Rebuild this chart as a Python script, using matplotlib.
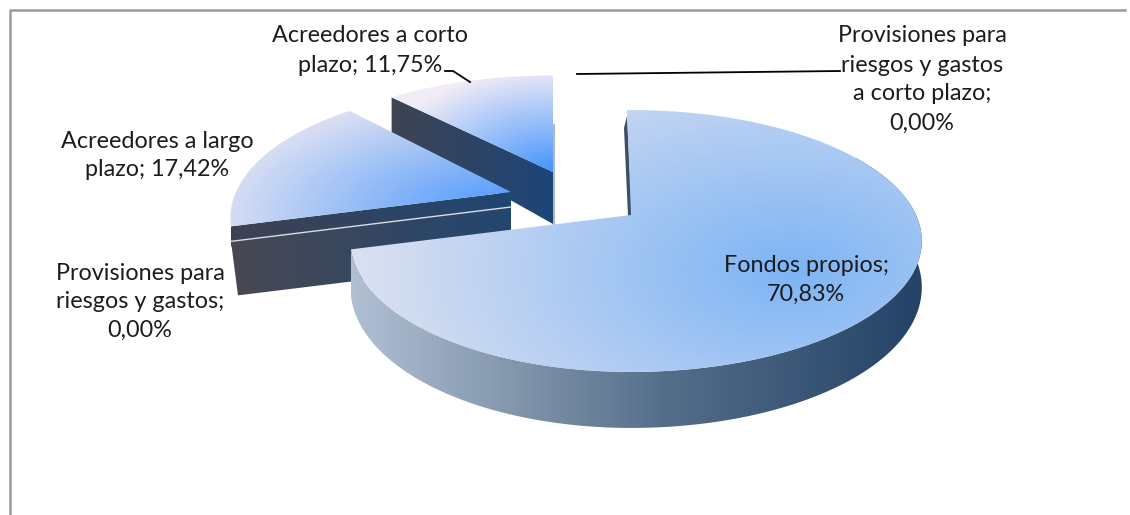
import numpy as np
import matplotlib
matplotlib.use("Agg")
import matplotlib.pyplot as plt
from matplotlib.patches import Polygon

# chart values
names = ["Fondos propios;\n", "Provisiones para\nriesgos y gastos;\n", "Acreedores a largo\nplazo; ",
         "Acreedores a corto\nplazo; ", "Provisiones para\nriesgos y gastos\na corto plazo;\n"]
values = [70.83, 0.00, 17.42, 11.75, 0.00]

plt.rcParams['font.family'] = ['Lato', 'DejaVu Sans']

# shape of the tilted pie, in pixels (left half is a bit narrower in the picture)
A_RIGHT, A_LEFT, B, P = 285.0, 275.0, 125.8, 0.1985


def project(apex, deg, yscale=1.0):
    t = np.radians(deg)
    u, v = np.sin(t), np.cos(t)
    w = 1 + P * v
    a = np.where(u < 0, A_LEFT, A_RIGHT)
    return np.column_stack([apex[0] + a * u / w, apex[1] - yscale * B * v / w])


def rim_depth(deg):
    return 44 - 12 * np.cos(np.radians(deg))


def lerp_img(t, c0, c1):
    t = np.clip(t, 0, 1)[..., None]
    return (np.array(c0) + (np.array(c1) - np.array(c0)) * t) / 255.0


def fill(ax, pts, img, extent, z):
    patch = Polygon(pts, closed=True, fc='none', ec='none', zorder=z)
    ax.add_patch(patch)
    im = ax.imshow(img, extent=extent, aspect='auto', zorder=z, interpolation='bilinear')
    im.set_clip_path(patch)


def radial(ax, pts, centre, rx, ry, c0, c1, z):
    x0, y0 = pts.min(axis=0) - 2
    x1, y1 = pts.max(axis=0) + 2
    xx, yy = np.meshgrid(np.linspace(x0, x1, 300), np.linspace(y0, y1, 300))
    t = np.hypot((xx - centre[0]) / rx, (yy - centre[1]) / ry)
    fill(ax, pts, lerp_img(t, c0, c1), (x0, x1, y1, y0), z)


def linear(ax, pts, c0, c1, z):
    x0, y0 = pts.min(axis=0) - 2
    x1, y1 = pts.max(axis=0) + 2
    xx = np.tile(np.linspace(0, 1, 300), (4, 1))
    fill(ax, pts, lerp_img(xx, c0, c1), (x0, x1, y1, y0), z)


def wall(ax, apex, end, apex_drop, rim_drop, c0, c1, z, rim_dx=0):
    pts = np.array([end, apex, [apex[0], apex[1] + apex_drop], [end[0] + rim_dx, end[1] + rim_drop]])
    linear(ax, pts, c0, c1, z)


fig = plt.figure(figsize=(11.3, 5.15), dpi=100)
ax = fig.add_axes([0, 0, 1, 1])

# slice angles come from the values, clockwise from 12 o'clock
ends = np.cumsum(values) * 3.6
big_end, thin_end, largo_end = ends[0], ends[1], ends[2]

# Acreedores a corto plazo
apex_corto = (553, 172)
arc = project(apex_corto, np.linspace(largo_end, 360, 60), 0.92)
face = np.vstack([apex_corto, arc])
wall(ax, apex_corto, arc[0], 52, 36, (62, 68, 82), (28, 70, 122), 2)
radial(ax, face, (553, 172), 175, 105, (66, 148, 252), (242, 236, 246), 3)
ax.plot([554, 554], [125, 225], color='#b5b8bb', lw=1.5, zorder=1)

# Acreedores a largo plazo
apex_largo = (511, 192)
arc = project(apex_largo, np.linspace(big_end, largo_end, 80))
face = np.vstack([apex_largo, arc])
wall(ax, apex_largo, arc[0], 20, 20, (62, 66, 80), (32, 70, 115), 4)
radial(ax, face, (520, 215), 320, 130, (66, 148, 252), (228, 228, 242), 5)

# Provisiones para riesgos y gastos, 0 % so only the wall shows
apex_thin = (511, 207)
end = project(apex_thin, thin_end)[0]
wall(ax, apex_thin, end, 55, 54, (72, 72, 82), (34, 70, 112), 6, rim_dx=7)
ax.plot([end[0], apex_thin[0]], [end[1], apex_thin[1]], color='#d9dde3', lw=1, zorder=7)

# Fondos propios
apex_big = (631, 215)
arc_deg = np.linspace(60, big_end, 160)
top = project(apex_big, arc_deg)
bottom = top + np.column_stack([np.zeros(len(top)), rim_depth(arc_deg)])
rim = np.vstack([top, bottom[::-1]])
x0, y0 = rim.min(axis=0) - 2
x1, y1 = rim.max(axis=0) + 2
xx = np.linspace(0, 1, 400)
stops = np.array([(178, 192, 212), (128, 148, 170), (84, 110, 138), (36, 66, 102)], dtype=float)
band = np.column_stack([np.interp(xx, [0, .3, .55, 1], stops[:, i]) for i in range(3)]) / 255.0
fill(ax, rim, np.tile(band, (4, 1, 1)), (x0, x1, y1, y0), 8)
ax.add_patch(Polygon([(624, 128), (627, 116), (632, 216), (628, 216)], closed=True,
                     fc='#3d4f66', ec='none', zorder=8))
face = np.vstack([apex_big, project(apex_big, np.linspace(-1, big_end, 200))])
radial(ax, face, (790, 270), 450, 260, (125, 180, 245), (222, 226, 240), 9)

# leader lines
ax.plot([577, 840], [74, 71], color='black', lw=1.3, zorder=10)
ax.plot([445, 453, 470], [71, 71, 82], color='black', lw=1.3, zorder=10)

# outer frame of the chart area
ax.plot([10, 10, 1125], [515, 10, 10], color='#9a9a9a', lw=1.8, zorder=1)


def label(x, ys, i):
    s = names[i] + f"{values[i]:.2f}%".replace(".", ",")
    for y, line in zip(ys, s.split("\n")):
        ax.text(x, y + 2, line, ha='center', va='center', fontsize=16.8, color='#1c1c1c', zorder=11)


label(806, [264, 292], 0)
label(140, [271, 300, 328], 1)
label(157, [139, 167], 2)
label(370, [34, 63], 3)
label(922, [34, 63, 92, 121], 4)

ax.set_xlim(0, 1130)
ax.set_ylim(515, 0)
ax.axis('off')
plt.savefig('out.png', dpi=100, facecolor='white')
